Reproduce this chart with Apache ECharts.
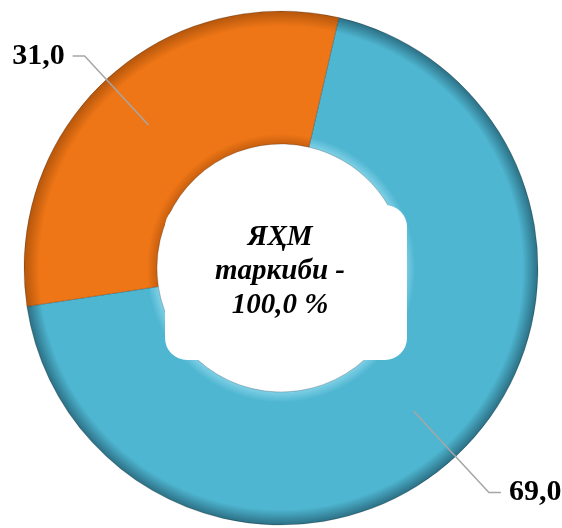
<!DOCTYPE html>
<html>
<head>
<meta charset="utf-8">
<script src="https://cdn.jsdelivr.net/npm/echarts@6/dist/echarts.min.js"></script>
<style>
html,body{margin:0;padding:0;background:#fff;}
#chart{width:562px;height:528px;}
</style>
</head>
<body>
<div id="chart"></div>
<script>
// data
const sliceNames = ['Улуш 1', 'Улуш 2'];
const sliceValues = [69.0, 31.0];
const sliceColors = ['#4fb6d1', '#ef7616'];
const centerLines = ['ЯҲМ', 'таркиби -', '100,0 %'];

const CX = 281, CY = 268, R_IN = 124, R_OUT = 257;
const SERIF = '"Liberation Serif", "Times New Roman", serif';

// radial shading to hint at the bevel of the ring
function ringFill(base, light, dark){
    return new echarts.graphic.RadialGradient(CX, CY, R_OUT, [
        {offset: R_IN / R_OUT, color: light},
        {offset: R_IN / R_OUT + 0.04, color: base},
        {offset: 0.94, color: base},
        {offset: 1, color: dark}
    ], true);
}
const fills = [
    ringFill(sliceColors[0], '#7fd0e6', '#2b6f84'),
    ringFill(sliceColors[1], '#c8600f', '#b4560c')
];

const chart = echarts.init(document.getElementById('chart'));
chart.setOption({
    backgroundColor: '#ffffff',
    animation: false,
    // white text box sitting over the hole, as in the source slide
    graphic: [
        {type: 'rect', z: 100, shape: {x: 165, y: 205, width: 242, height: 155, r: 22},
            style: {fill: '#ffffff'}},
        {type: 'text', z: 101, x: 280, y: 272,
            style: {text: centerLines.join('\n'), align: 'center', verticalAlign: 'middle',
                font: 'italic bold 29px ' + SERIF, lineHeight: 34, fill: '#000'}}
    ],
    series: [
        {
            type: 'pie',
            center: [CX, CY],
            radius: [R_IN, R_OUT],
            startAngle: 77,
            clockwise: true,
            silent: true,
            label: {show: false},
            labelLine: {show: false},
            itemStyle: {borderColor: 'rgba(0,0,0,0.2)', borderWidth: 1},
            data: sliceValues.map((v, i) => ({
                name: sliceNames[i], value: v,
                itemStyle: {color: fills[i]}
            }))
        },
        {
            // carries only the labels, so the leader lines start inside the ring
            type: 'pie',
            center: [CX, CY],
            radius: [0, 195],
            startAngle: 77,
            clockwise: true,
            silent: true,
            avoidLabelOverlap: false,
            itemStyle: {color: 'rgba(0,0,0,0)'},
            label: {
                show: true, position: 'outside', distanceToLabelLine: 8,
                fontFamily: SERIF, fontSize: 30, fontWeight: 'bold', color: '#000',
                formatter: p => p.value.toFixed(1).replace('.', ',')
            },
            labelLine: {show: true, smooth: false, lineStyle: {color: '#a6a6a6', width: 1.5}},
            data: sliceValues.map((v, i) => ({
                name: sliceNames[i], value: v,
                labelLine: i === 0 ? {length: 111, length2: 12} : {length: 94, length2: 12}
            })),
            z: 5
        }
    ]
});
window.addEventListener('resize', () => chart.resize());
</script>
</body>
</html>
